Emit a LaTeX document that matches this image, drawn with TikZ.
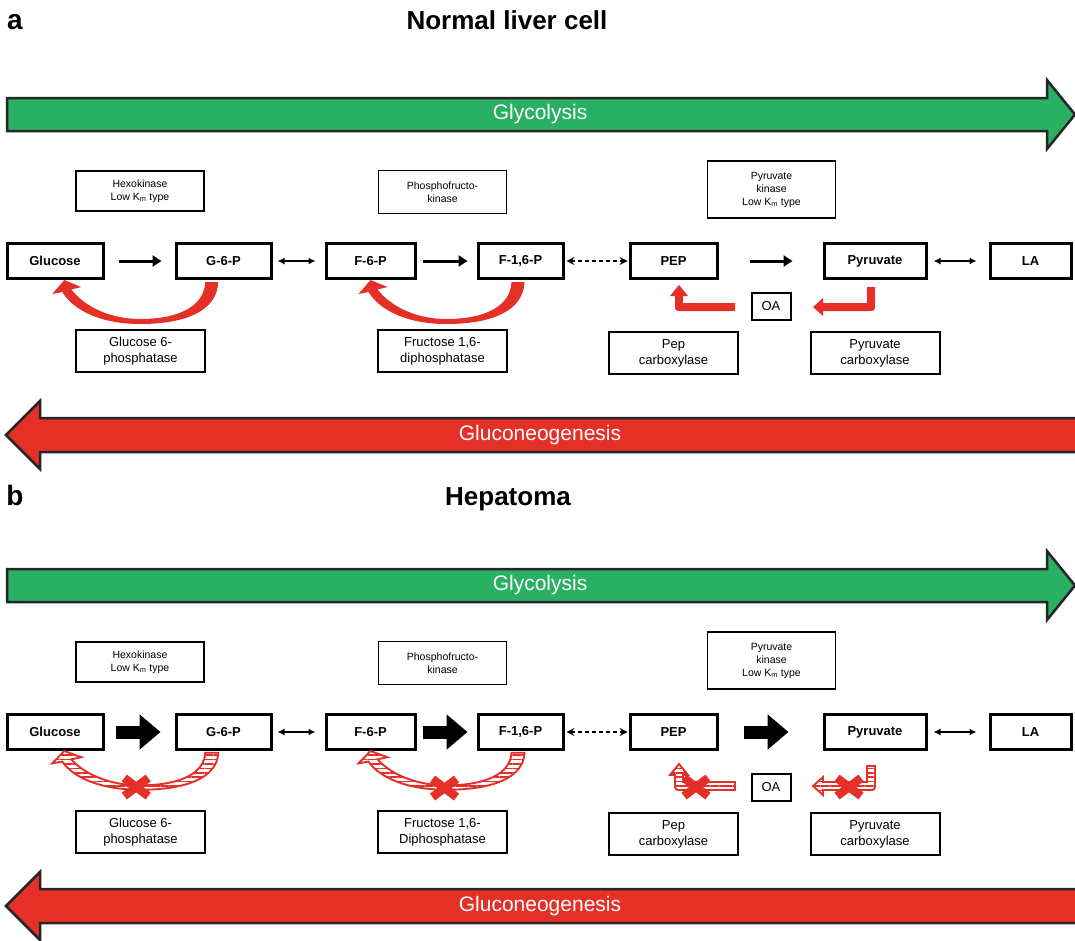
\documentclass[tikz,border=0pt]{standalone}
\usepackage{fontspec}
\setmainfont{Liberation Sans}
\usetikzlibrary{arrows.meta, positioning, calc, patterns.meta}

\definecolor{glyGreen}{RGB}{42,176,98}
\definecolor{gngRed}{RGB}{229,48,39}

% outlines of the red arrows, in local coordinates
\newcommand{\uturnpath}{(79,2) .. controls (78,31) and (46,44) .. (1,44)
  .. controls (-39,44) and (-66,30) .. (-77,12) -- (-87,14) -- (-75,0) -- (-58,7) -- (-68,9.5)
  .. controls (-54,27) and (-29,39) .. (1,39) .. controls (40,39) and (65,26) .. (66,2) -- cycle}
\newcommand{\leftelbow}{(-36,-3) -- (-88,-3) -- (-88,-10) -- (-83,-10) -- (-92,-21) -- (-101,-10)
  -- (-96,-10) -- (-96,-2) .. controls (-96,5) .. (-89,5) -- (-36,5) -- cycle}
\newcommand{\rightelbow}{(96,-19) -- (96,-3) -- (52,-3) -- (52,-8) -- (42,1) -- (52,10) -- (52,5)
  -- (97,5) .. controls (104,5) .. (104,-2) -- (104,-19) -- cycle}

\begin{document}
\begin{tikzpicture}[
	  x=1pt, y=-1pt,
	  met/.style={
	    draw,
	    line width=3pt,
	    minimum height=35pt,
	    inner sep=0pt,
	    font=\fontsize{13}{15}\selectfont\bfseries
	  },
	  enztop/.style={
	    draw,
	    line width=1.6pt,
	    align=center,
	    minimum width=128pt,
	    inner sep=0pt,
	    font=\fontsize{10.5}{13}\selectfont
	  },
	  enzbot/.style={
	    draw,
	    line width=2pt,
	    align=center,
	    minimum width=129pt,
	    minimum height=42pt,
	    inner sep=0pt,
	    font=\fontsize{13}{16}\selectfont
	  },
	  fwd/.style={line width=3pt, -{Triangle[length=9pt, width=11pt]}},
	  rev/.style={line width=1.8pt, {Latex[length=7pt, width=7pt]}-{Latex[length=7pt, width=7pt]}},
	  dashedarrow/.style={line width=2pt, dash pattern=on 4pt off 3pt,
	    {Stealth[length=8pt, width=8pt, inset=3pt]}-{Stealth[length=8pt, width=8pt, inset=3pt]}},
	  blockarrow/.style={line width=13pt, -{Triangle[length=21pt, width=34pt]}},
	  pathway/.style={draw=black!85, line width=2.5pt, line join=miter},
	  hatched/.style={draw=gngRed, line width=1.9pt,
	    pattern={Lines[angle=0, distance=4.4pt, line width=1.7pt]}, pattern color=gngRed},
	  redx/.pic={\draw[gngRed, line width=8.5pt] (-12,-9) -- (12,9) (-12,9) -- (12,-9);}
	]
	
	\useasboundingbox (0,0) rectangle (1075,940);
	
	\node[anchor=base, font=\fontsize{28}{32}\selectfont\bfseries] (labA) at (15,29) {a};
	\node[anchor=base, font=\fontsize{26}{30}\selectfont\bfseries] (titleA) at (507,29) {Normal liver cell};
	\node[anchor=base, font=\fontsize{28}{32}\selectfont\bfseries] (labB) at (15,505) {b};
	\node[anchor=base, font=\fontsize{26}{30}\selectfont\bfseries] (titleB) at (508,505) {Hepatoma};
	
	% parts shared by both panels
	\foreach \p/\dy/\dz/\fbp/\gap in {A/0/0/diphosphatase/51pt, B/471/481/Diphosphatase/61pt}{
	  \draw[pathway, fill=glyGreen] (7,98+\dy) -- (1047,98+\dy) -- (1047,80+\dy) -- (1075,114.5+\dy)
	    -- (1047,149+\dy) -- (1047,131+\dy) -- (7,131+\dy) -- cycle;
	  \node[white, font=\fontsize{21}{24}\selectfont] (gly\p) at (540,114+\dy) {Glycolysis};
	  \draw[pathway, fill=gngRed] (1085,418+\dy) -- (40,418+\dy) -- (40,401+\dy) -- (6,435+\dy)
	    -- (40,469+\dy) -- (40,452+\dy) -- (1085,452+\dy);
	  \node[white, font=\fontsize{21}{24}\selectfont] (gng\p) at (540,435+\dy) {Gluconeogenesis};
	
	  \node[met, minimum width=96pt] (glu\p) at (55,261+\dy) {Glucose};
	  \node[met, minimum width=95pt] (g6p\p) at (223.5,261+\dy) {G-6-P};
	  \node[met, minimum width=89pt] (f6p\p) at (370.5,261+\dy) {F-6-P};
	  \node[met, minimum width=85pt] (f16p\p) at (520.5,261+\dy) {F-1,6-P};
	  \node[met, minimum width=87pt] (pep\p) at (673.5,261+\dy) {PEP};
	  \node[met, minimum width=102pt] (pyr\p) at (875,261+\dy) {Pyruvate};
	  \node[met, minimum width=81pt] (la\p) at (1030.5,261+\dy) {LA};
	
	  \node[enztop, minimum height=40pt] (hk\p) at (140,191+\dy) {Hexokinase\\Low K\textsubscript{m} type};
	  \node[enztop, minimum height=43pt] (pfk\p) at (442.5,192+\dy) {Phosphofructo-\\kinase};
	  \node[enztop, minimum height=57pt] (pk\p) at (771.5,189.5+\dy) {Pyruvate\\kinase\\Low K\textsubscript{m} type};
	  \node[enzbot] (gpase\p) at (140.5,351+\dz) {Glucose 6-\\phosphatase};
	  \node[enzbot] (fbpase\p) at (442.5,351+\dz) {Fructose 1,6-\\\fbp};
	  \node[enzbot, below=\gap of pep\p] (pepc\p) {Pep\\carboxylase};
	  \node[enzbot, below=\gap of pyr\p] (pc\p) {Pyruvate\\carboxylase};
	  \node[draw, line width=2pt, minimum width=39pt, minimum height=27pt,
	    font=\fontsize{13}{15}\selectfont] (oa\p) at (771,306+\dz) {OA};
	
	  \draw[rev, shorten <=5pt, shorten >=9pt] (g6p\p) -- (f6p\p);
	  \draw[dashedarrow, shorten <=2pt, shorten >=1pt] (f16p\p) -- (pep\p);
	  \draw[rev, shorten <=6pt, shorten >=12pt] (pyr\p) -- (la\p);
	
	  \coordinate (gbend\p) at ($(glu\p.south)!.5!(g6p\p.south)$);
	  \coordinate (fbend\p) at ($(f6p\p.south)!.5!(f16p\p.south)$);
	}
	
	% normal liver cell
	\draw[fwd, shorten <=14pt, shorten >=13pt] (gluA) -- (g6pA);
	\draw[fwd, shorten <=6pt, shorten >=9pt] (f6pA) -- (f16pA);
	\draw[fwd, shorten <=31pt, shorten >=30pt] (pepA) -- (pyrA);
	\fill[gngRed, shift={(gbendA)}] \uturnpath;
	\fill[gngRed, shift={(fbendA)}] \uturnpath;
	\fill[gngRed, shift={(oaA)}] \leftelbow;
	\fill[gngRed, shift={(oaA)}] \rightelbow;
	
	% hepatoma
	\draw[blockarrow, shorten <=11pt, shorten >=14pt] (gluB) -- (g6pB);
	\draw[blockarrow, shorten <=6pt, shorten >=9pt] (f6pB) -- (f16pB);
	\draw[blockarrow, shorten <=25pt, shorten >=34pt] (pepB) -- (pyrB);
	\draw[hatched, shift={(gbendB)}, yscale=.88] \uturnpath;
	\draw[hatched, shift={(fbendB)}, yscale=.88] \uturnpath;
	\draw[hatched, shift={($(oaB)+(0,-2)$)}] \leftelbow;
	\draw[hatched, shift={($(oaB)+(0,-2)$)}] \rightelbow;
	\pic at ($(gbendB)+(-3,36)$) {redx};
	\pic at ($(fbendB)+(-1,37)$) {redx};
	\pic at ($(oaB)+(-75,0)$) {redx};
	\pic at ($(oaB)+(78,0)$) {redx};
	
	\end{tikzpicture}
\end{document}
